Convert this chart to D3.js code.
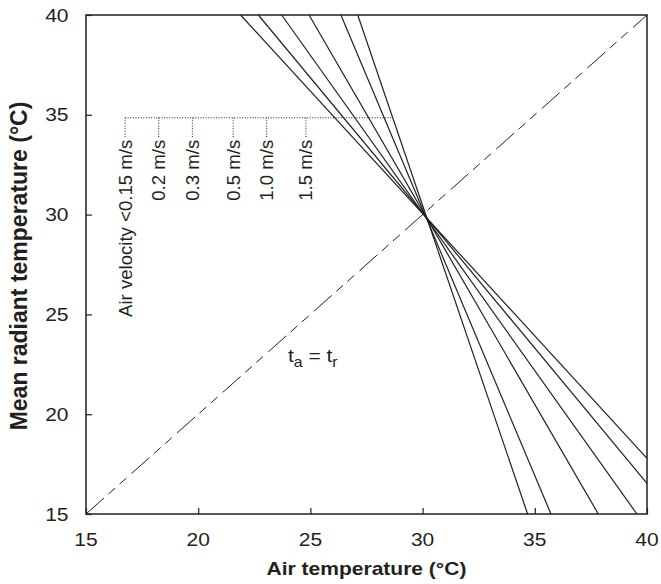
<!DOCTYPE html>
<html><head><meta charset="utf-8">
<script src="https://cdn.jsdelivr.net/npm/d3@7"></script>
<style>body{margin:0;background:#fff}svg{display:block}text{font-family:"Liberation Sans",Arial,sans-serif;fill:#231f20}</style>
</head><body>
<svg id="c" width="661" height="584"></svg>
<script>
const xTicks = [15, 20, 25, 30, 35, 40];
const yTicks = [15, 20, 25, 30, 35, 40];
const velocities = ["Air velocity <0.15 m/s", "0.2 m/s", "0.3 m/s", "0.5 m/s", "1.0 m/s", "1.5 m/s"];
const lineX1 = [21.89, 22.68, 23.72, 24.94, 26.36, 27.11];
const lineY1 = [40, 40, 40, 40, 40, 40];
const lineX2 = [40, 40, 39.55, 37.83, 35.72, 34.68];
const lineY2 = [17.79, 16.54, 15, 15, 15, 15];
const labelX = [16.74, 18.24, 19.74, 21.56, 23.05, 24.8];
const bracketY = 34.85, bracketEndX = 28.68, labelTopY = 33.75;
const equalLine = [[15, 15], [40, 40]];

const svg = d3.select("#c");
const L = 86, R = 647, T = 15, B = 514;
const x = d3.scaleLinear().domain([15, 40]).range([L, R]);
const y = d3.scaleLinear().domain([15, 40]).range([B, T]);
const SX = 1.13;
const ink = "#231f20";

// frame
svg.append("rect").attr("x", L).attr("y", T).attr("width", R - L).attr("height", B - T)
  .attr("fill", "none").attr("stroke", ink).attr("stroke-width", 1.5);

// axes
const xa = svg.append("g").attr("transform", `translate(0,${B})`)
  .call(d3.axisBottom(x).tickValues(xTicks).tickSize(-6).tickPadding(0).tickFormat(d3.format("d")));
xa.select(".domain").remove();
xa.selectAll("line").attr("stroke", ink).attr("stroke-width", 1.2);
xa.selectAll("text").remove();
xTicks.forEach(v => {
  svg.append("text").attr("transform", `translate(${x(v)},546) scale(${SX},1)`)
    .attr("text-anchor", "middle").attr("font-size", 18.6).text(v);
});
const ya = svg.append("g").attr("transform", `translate(${L},0)`)
  .call(d3.axisLeft(y).tickValues(yTicks).tickSize(-6).tickFormat(d3.format("d")));
ya.select(".domain").remove();
ya.selectAll("line").attr("stroke", ink).attr("stroke-width", 1.2);
ya.selectAll("text").remove();
yTicks.forEach(v => {
  svg.append("text").attr("transform", `translate(68.5,${y(v) + 6.6}) scale(${SX},1)`)
    .attr("text-anchor", "end").attr("font-size", 18.6).text(v);
});

// titles
svg.append("text").attr("transform", `translate(${(L + R) / 2},575) scale(${SX},1)`)
  .attr("text-anchor", "middle").attr("font-size", 18.6).attr("font-weight", "bold")
  .text("Air temperature (°C)");
svg.append("text").attr("transform", `translate(27,266) rotate(-90)`)
  .attr("text-anchor", "middle").attr("font-size", 23).attr("font-weight", "bold")
  .text("Mean radiant temperature (°C)");

// ta = tr dashed line
svg.append("line")
  .attr("x1", x(equalLine[0][0])).attr("y1", y(equalLine[0][1]))
  .attr("x2", x(equalLine[1][0])).attr("y2", y(equalLine[1][1]))
  .attr("stroke", ink).attr("stroke-width", 1).attr("stroke-dasharray", "24,6,9,6,9,7");

// velocity lines
svg.append("g").selectAll("line").data(velocities).join("line")
  .attr("x1", (d, i) => x(lineX1[i])).attr("y1", (d, i) => y(lineY1[i]))
  .attr("x2", (d, i) => x(lineX2[i])).attr("y2", (d, i) => y(lineY2[i]))
  .attr("stroke", ink).attr("stroke-width", 1.2);

// bracket
svg.append("line").attr("x1", x(labelX[0])).attr("x2", x(bracketEndX))
  .attr("y1", y(bracketY)).attr("y2", y(bracketY))
  .attr("stroke", ink).attr("stroke-width", 1).attr("stroke-dasharray", "1,1.6");
svg.append("g").selectAll("line").data(velocities).join("line")
  .attr("x1", (d, i) => x(labelX[i])).attr("x2", (d, i) => x(labelX[i]))
  .attr("y1", y(bracketY)).attr("y2", y(labelTopY) - 2)
  .attr("stroke", ink).attr("stroke-width", 1).attr("stroke-dasharray", "1,1.6");
svg.append("g").selectAll("text").data(velocities).join("text")
  .attr("transform", (d, i) => `translate(${x(labelX[i]) + 6.5},${y(labelTopY)}) rotate(-90)`)
  .attr("text-anchor", "end").attr("font-size", 18.6).text(d => d);

// ta = tr label
const lab = svg.append("text").attr("transform", `translate(${x(24.0)},${y(22.6)}) scale(${SX},1)`)
  .attr("font-size", 18.6);
lab.append("tspan").text("t");
lab.append("tspan").attr("font-size", 14).attr("dy", 5).text("a");
lab.append("tspan").attr("dy", -5).text(" = t");
lab.append("tspan").attr("font-size", 14).attr("dy", 5).text("r");
</script>
</body></html>
